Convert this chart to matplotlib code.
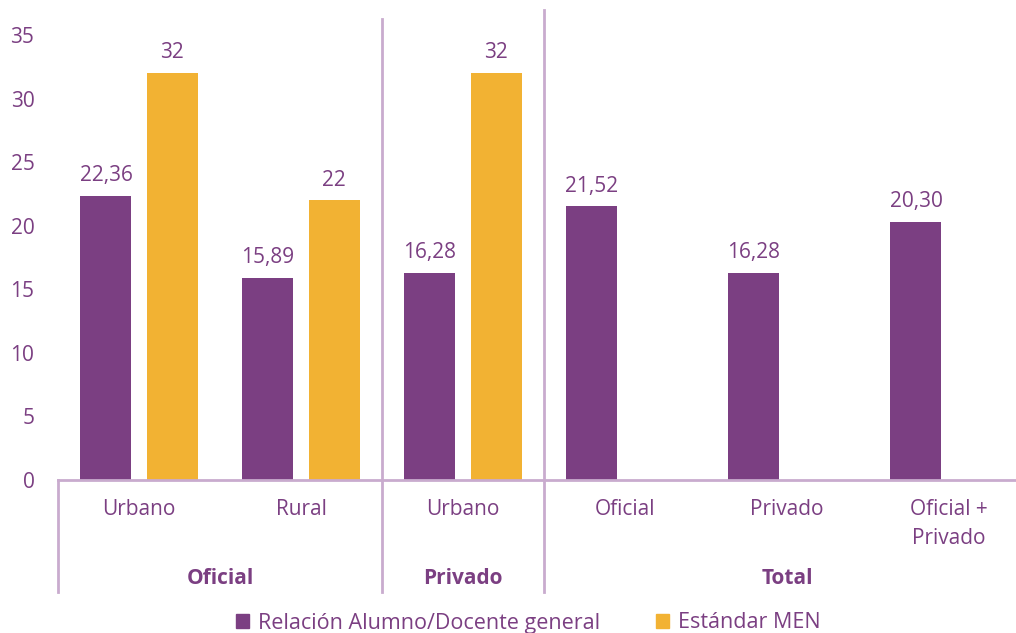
import matplotlib
matplotlib.use("Agg")
import matplotlib.pyplot as plt
import matplotlib.transforms as mtransforms
from matplotlib.patches import Patch
import numpy as np

# data
categorias = ["Urbano", "Rural", "Urbano", "Oficial", "Privado", "Oficial +\nPrivado"]
relacion = [22.36, 15.89, 16.28, 21.52, 16.28, 20.30]
estandar = [32, 22, 32, None, None, None]
grupos = ["Oficial", "Privado", "Total"]
grupo_centros = [0.5, 2, 4]
separadores = [1.5, 2.5]

morado = "#7B3F82"
naranja = "#F2B233"
linea = "#C9ABCE"

plt.rcParams['font.family'] = ['Open Sans', 'DejaVu Sans']

fig = plt.figure(figsize=(10.16, 6.33), dpi=100)
ax = fig.add_axes([58 / 1016, 1 - 480 / 633, 1 - 58 / 1016, 445 / 633])

x = np.arange(len(categorias))
w = 0.315
off = 0.204

ax.bar(x - off, relacion, width=w, color=morado)
for xi, v in zip(x, relacion):
    ax.annotate(f"{v:.2f}".replace(".", ","), (xi - off, v), xytext=(0, 7),
                textcoords="offset points", ha="center", va="bottom",
                color=morado, fontsize=15)

xs_est = [xi for xi, v in zip(x, estandar) if v is not None]
vs_est = [v for v in estandar if v is not None]
ax.bar(np.array(xs_est) + off, vs_est, width=w, color=naranja)
for xi, v in zip(xs_est, vs_est):
    ax.annotate(f"{v}", (xi + off, v), xytext=(0, 7),
                textcoords="offset points", ha="center", va="bottom",
                color=morado, fontsize=15)

ax.set_ylim(0, 35)
ax.set_xlim(-0.5, -0.5 + (1016 - 58) / 162)
ax.set_yticks(range(0, 36, 5))
ax.set_xticks(x)
ax.set_xticklabels(categorias)
ax.tick_params(axis="both", length=0, labelsize=15, labelcolor=morado)
ax.tick_params(axis="x", pad=14)
ax.tick_params(axis="y", pad=17)
for lbl in ax.get_xticklabels():
    lbl.set_linespacing(1.45)

for s in ["top", "right", "left"]:
    ax.spines[s].set_visible(False)
ax.spines["bottom"].set_color(linea)
ax.spines["bottom"].set_linewidth(2)

# group separators and labels
trans = mtransforms.blended_transform_factory(ax.transData, fig.transFigure)
bottom_y = 1 - 592 / 633
ax.plot([-0.5, -0.5], [1 - 480 / 633, bottom_y], transform=trans, color=linea,
        lw=2, clip_on=False)
ax.plot([1.5, 1.5], [1 - 19 / 633, bottom_y], transform=trans, color=linea,
        lw=2, clip_on=False)
ax.plot([2.5, 2.5], [1 - 10 / 633, bottom_y], transform=trans, color=linea,
        lw=2, clip_on=False)

for g, c in zip(grupos, grupo_centros):
    ax.text(c, 1 - 578 / 633, g, transform=trans, ha="center", va="center",
            fontsize=15, fontweight="bold", color=morado)

handles = [Patch(color=morado, label="Relación Alumno/Docente general"),
           Patch(color=naranja, label="Estándar MEN")]
leg = fig.legend(handles=handles, loc="center", bbox_to_anchor=(0.52, 1 - 623 / 633),
                 ncol=2, frameon=False, fontsize=15.5, handlelength=0.6,
                 handleheight=0.6, handletextpad=0.4, columnspacing=2.6)
for t in leg.get_texts():
    t.set_color(morado)

fig.savefig("out.png", dpi=100)
